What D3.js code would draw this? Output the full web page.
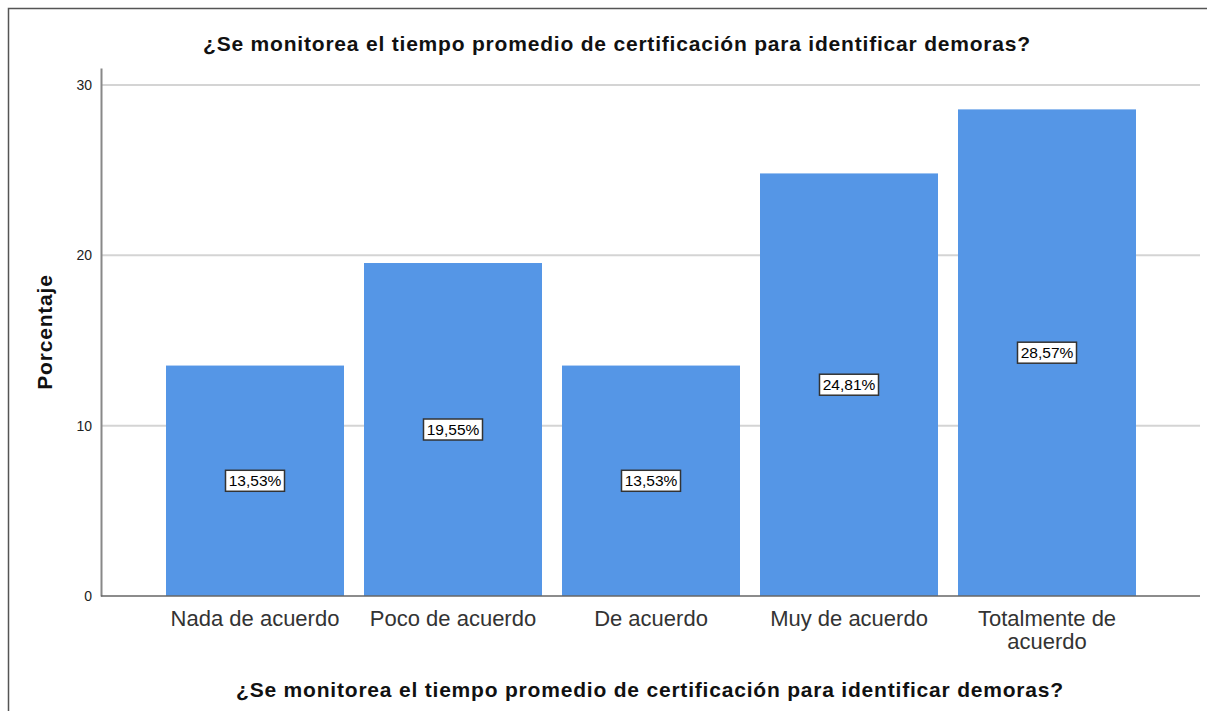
<!DOCTYPE html>
<html>
<head>
<meta charset="utf-8">
<script src="https://cdn.jsdelivr.net/npm/d3@7"></script>
<style>
  body { margin: 0; background: #fff; }
  svg { display: block; font-family: "Liberation Sans", Arial, sans-serif; }
</style>
</head>
<body>
<div id="chart"></div>
<script>
// data
const categories = ['Nada de acuerdo', 'Poco de acuerdo', 'De acuerdo', 'Muy de acuerdo', 'Totalmente de acuerdo'];
const percents = [13.53, 19.55, 13.53, 24.81, 28.57];
const yTicks = [0, 10, 20, 30];
const chartTitle = '¿Se monitorea el tiempo promedio de certificación para identificar demoras?';

const W = 1207, H = 711;
const margin = { top: 68, right: 7, bottom: 115, left: 101 };
const width = W - margin.left - margin.right,
  height = H - margin.top - margin.bottom;

const svg = d3.select('#chart')
  .append('svg')
  .attr('width', W)
  .attr('height', H);

// outer frame (only top and left edges show in the picture)
svg.append('path')
  .attr('d', `M8.5 ${H} V8.5 H${W}`)
  .attr('fill', 'none')
  .attr('stroke', '#555')
  .attr('stroke-width', 1.5);

const group = svg.append('g')
  .attr('transform', `translate(${margin.left} ${margin.top})`);

const y = d3.scaleLinear()
  .domain([0, 31])
  .range([height, 0]);

// 5 bands, step 198, bar 178
const x = d3.scaleBand()
  .domain(categories)
  .range([55, 1045])
  .paddingInner(20 / 198)
  .paddingOuter(10 / 198);

// gridlines
group.append('g')
  .selectAll('line')
  .data(yTicks.filter(d => d > 0))
  .join('line')
  .attr('x1', 0)
  .attr('x2', width)
  .attr('y1', d => y(d))
  .attr('y2', d => y(d))
  .attr('stroke', '#d4d4d4')
  .attr('stroke-width', 2);

// bars
group.append('g')
  .selectAll('rect')
  .data(percents)
  .join('rect')
  .attr('x', (d, i) => x(categories[i]))
  .attr('y', d => y(d))
  .attr('width', x.bandwidth())
  .attr('height', d => y(0) - y(d))
  .attr('fill', '#5596e6');

// y axis
const yAxis = group.append('g')
  .call(d3.axisLeft(y).tickValues(yTicks).tickSize(0).tickPadding(9));
yAxis.select('.domain').attr('stroke', '#888').attr('stroke-width', 2);
yAxis.selectAll('text')
  .attr('font-size', 14)
  .attr('fill', '#222')
  .attr('font-family', '"Liberation Sans", Arial, sans-serif');

// x axis line
group.append('line')
  .attr('x1', 0)
  .attr('x2', width)
  .attr('y1', y(0))
  .attr('y2', y(0))
  .attr('stroke', '#666')
  .attr('stroke-width', 1.5);

// category labels, long ones wrapped
const catLabels = group.append('g')
  .selectAll('text')
  .data(categories)
  .join('text')
  .attr('text-anchor', 'middle')
  .attr('font-size', 22)
  .attr('fill', '#333')
  .attr('transform', d => `translate(${x(d) + x.bandwidth() / 2} ${height + 30})`);

catLabels.each(function (d) {
  const lines = d === 'Totalmente de acuerdo' ? ['Totalmente de', 'acuerdo'] : [d];
  d3.select(this)
    .selectAll('tspan')
    .data(lines)
    .join('tspan')
    .attr('x', 0)
    .attr('dy', (l, i) => i === 0 ? 0 : 23)
    .text(l => l);
});

// value labels in boxes at half bar height
const valueLabels = group.append('g')
  .selectAll('g')
  .data(percents)
  .join('g')
  .attr('transform', (d, i) => `translate(${x(categories[i]) + x.bandwidth() / 2} ${y(d / 2)})`);

valueLabels.append('rect')
  .attr('x', -29.5)
  .attr('y', -10.5)
  .attr('width', 59)
  .attr('height', 21)
  .attr('fill', '#fff')
  .attr('stroke', '#333')
  .attr('stroke-width', 1.5);

valueLabels.append('text')
  .attr('text-anchor', 'middle')
  .attr('dy', '0.36em')
  .attr('font-size', 15.5)
  .attr('fill', '#000')
  .text(d => d.toFixed(2).replace('.', ',') + '%');

// titles
svg.append('text')
  .attr('x', 617)
  .attr('y', 51)
  .attr('text-anchor', 'middle')
  .attr('font-size', 21)
  .attr('letter-spacing', 0.8)
  .attr('font-weight', 'bold')
  .attr('fill', '#111')
  .text(chartTitle);

svg.append('text')
  .attr('x', 650)
  .attr('y', 697)
  .attr('text-anchor', 'middle')
  .attr('font-size', 21)
  .attr('letter-spacing', 0.8)
  .attr('font-weight', 'bold')
  .attr('fill', '#111')
  .text(chartTitle);

svg.append('text')
  .attr('transform', `translate(52 ${margin.top + height / 2}) rotate(-90)`)
  .attr('text-anchor', 'middle')
  .attr('font-size', 21)
  .attr('letter-spacing', 0.8)
  .attr('font-weight', 'bold')
  .attr('fill', '#111')
  .text('Porcentaje');
</script>
</body>
</html>
